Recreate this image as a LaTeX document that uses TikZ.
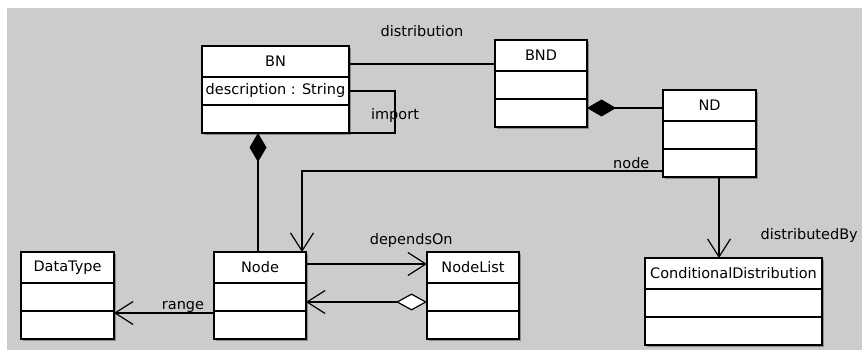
\documentclass[tikz,border=0pt]{standalone}
\usepackage{fontspec}
\setmainfont{DejaVu Sans}
\usetikzlibrary{positioning,arrows.meta,shadows}
\definecolor{canvas}{HTML}{CCCCCC}

\begin{document}
\begin{tikzpicture}[x=1pt, y=-1pt,
	font=\fontsize{14.5}{17}\selectfont,
	hstyle/.style={rectangle, draw, fill=white, line width=1.6pt,
	inner sep=0pt, outer sep=0pt, minimum height=31pt,
	drop shadow={shadow xshift=1.6pt, shadow yshift=-1.6pt, fill=black!45, opacity=1}},
	cstyle/.style={hstyle, minimum height=28pt},
	estyle/.style={line width=1.2pt},
	navstyle/.style={estyle, -{Straight Barb[length=18pt, width=23pt]}},
	compstyle/.style={estyle, -{Diamond[length=29pt, width=17pt]}},
	lstyle/.style={inner sep=0pt}
	]
	\useasboundingbox (0,0) rectangle (862,350);
	\fill[white] (0,0) rectangle (862,350);
	\fill[canvas] (7,8) rectangle (862,350);

	% classes
	\node[hstyle, minimum width=147pt, anchor=north west] (BN) at (202,46) {BN};
	\node[cstyle, minimum width=147pt, below=0pt of BN] (BNa) {description : String};
	\node[cstyle, minimum width=147pt, below=0pt of BNa] (BNo) {};

	\node[hstyle, minimum width=92pt, anchor=north west] (BND) at (495,40) {BND};
	\node[cstyle, minimum width=92pt, below=0pt of BND] (BNDa) {};
	\node[cstyle, minimum width=92pt, below=0pt of BNDa] (BNDo) {};

	\node[hstyle, minimum width=93pt, anchor=north west] (ND) at (663,90) {ND};
	\node[cstyle, minimum width=93pt, below=0pt of ND] (NDa) {};
	\node[cstyle, minimum width=93pt, below=0pt of NDa] (NDo) {};

	\node[hstyle, minimum width=93pt, anchor=north west] (DT) at (21,252) {DataType};
	\node[cstyle, minimum width=93pt, below=0pt of DT] (DTa) {};
	\node[cstyle, minimum width=93pt, below=0pt of DTa] (DTo) {};

	\node[hstyle, minimum width=92pt, anchor=north west] (Node) at (214,252) {Node};
	\node[cstyle, minimum width=92pt, below=0pt of Node] (Nodea) {};
	\node[cstyle, minimum width=92pt, below=0pt of Nodea] (Nodeo) {};

	\node[hstyle, minimum width=92pt, anchor=north west] (NL) at (427,252) {NodeList};
	\node[cstyle, minimum width=92pt, below=0pt of NL] (NLa) {};
	\node[cstyle, minimum width=92pt, below=0pt of NLa] (NLo) {};

	\node[hstyle, minimum width=177pt, anchor=north west] (CD) at (645,258) {ConditionalDistribution};
	\node[cstyle, minimum width=177pt, below=0pt of CD] (CDa) {};
	\node[cstyle, minimum width=177pt, below=0pt of CDa] (CDo) {};

	% associations
	\draw[estyle] ([yshift=-2.5pt]BN.east) -- ([yshift=-2.5pt]BN.east -| BND.west)
		node[lstyle, midway, above=27pt] {distribution};
	\draw[estyle] (BNa.east) -- ++(46,0) |- (BNo.south east)
		node[lstyle, pos=0.25, yshift=-4pt] {import};
	\draw[compstyle] ([yshift=-2.5pt]ND.west) -- ([yshift=-2.5pt]ND.west -| BND.east);
	\draw[navstyle] ([yshift=-8pt]NDo.west) -| ([xshift=-4pt]Node.north east)
		node[lstyle, at start, anchor=south east, xshift=-13pt, yshift=2pt] {node};
	\draw[compstyle] ([xshift=-2pt]Node.north) -- ([xshift=-2pt]Node.north |- BNo.south);
	\draw[navstyle] ([yshift=-2pt]Nodeo.north west) -- ([yshift=-2pt]Nodeo.north west -| DTo.east)
		node[lstyle, pos=0.31, above] {range};
	\draw[navstyle] ([yshift=3.5pt]Node.east) -- ([yshift=3.5pt]Node.east -| NL.west)
		node[lstyle, pos=0.87, above=16pt] {dependsOn};
	\draw[estyle, {Straight Barb[length=18pt, width=23pt]}-{Diamond[open, fill=white, length=31pt, width=17pt]}]
		([yshift=-5pt]Nodea.east) -- ([yshift=-5pt]Nodea.east -| NLa.west);
	\draw[navstyle] ([xshift=9.5pt]NDo.south) -- ([xshift=9.5pt]NDo.south |- CD.north)
		node[lstyle, at end, anchor=south west, xshift=41pt, yshift=15pt] {distributedBy};
\end{tikzpicture}
\end{document}
